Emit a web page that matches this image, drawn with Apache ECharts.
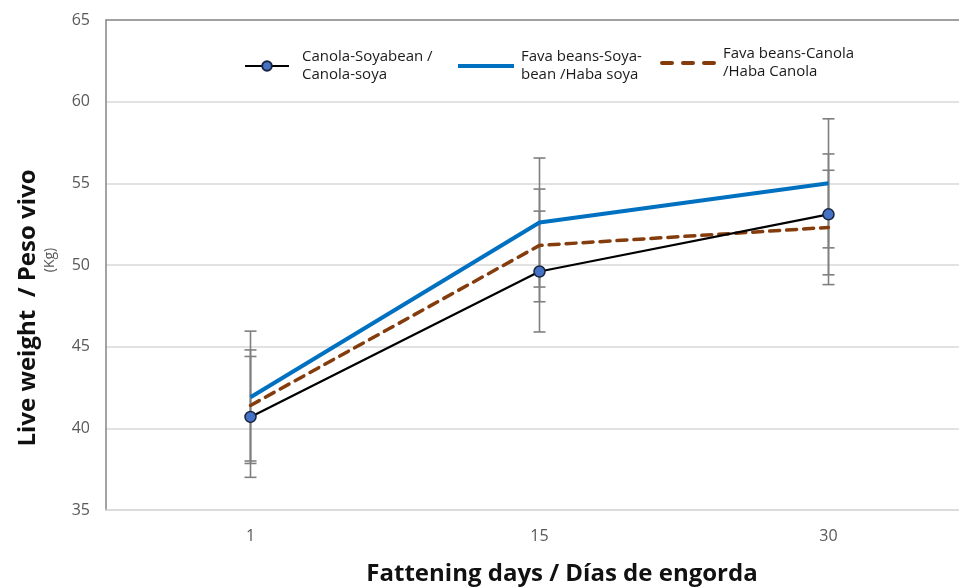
<!DOCTYPE html>
<html>
<head>
<meta charset="utf-8">
<script src="https://cdn.jsdelivr.net/npm/echarts@6/dist/echarts.min.js"></script>
<style>
  html, body { margin: 0; padding: 0; background: #fff; }
  #chart { width: 959px; height: 588px; }
</style>
</head>
<body>
<div id="chart"></div>
<script>
// Live weight over fattening days, three diets, with error bars
const DAYS = ['1', '15', '30'];
const NAMES = ['Canola-Soyabean /\nCanola-soya', 'Fava beans-Soya-\nbean /Haba soya', 'Fava beans-Canola\n/Haba Canola'];
const CANOLA_SOYA = [40.7, 49.6, 53.1];
const FAVA_SOYA = [41.9, 52.6, 55.0];
const FAVA_CANOLA = [41.4, 51.2, 52.3];
const CANOLA_SOYA_SD = [3.7, 3.7, 3.7];
const FAVA_SOYA_SD = [4.05, 3.95, 3.95];
const FAVA_CANOLA_SD = [3.4, 3.45, 3.5];

const FONT = '"Open Sans", "Noto Sans", sans-serif';

function errorData(means, sds) {
  return means.map((m, i) => [i, m - sds[i], m + sds[i]]);
}

function renderError(params, api) {
  const x = api.value(0);
  const lo = api.coord([x, api.value(1)]);
  const hi = api.coord([x, api.value(2)]);
  const half = 6;
  const style = { stroke: '#7f7f7f', lineWidth: 1.6 };
  return {
    type: 'group',
    children: [
      { type: 'line', shape: { x1: lo[0], y1: lo[1], x2: hi[0], y2: hi[1] }, style },
      { type: 'line', shape: { x1: lo[0] - half, y1: lo[1], x2: lo[0] + half, y2: lo[1] }, style },
      { type: 'line', shape: { x1: hi[0] - half, y1: hi[1], x2: hi[0] + half, y2: hi[1] }, style }
    ]
  };
}

function errorSeries(means, sds) {
  return {
    type: 'custom',
    renderItem: renderError,
    data: errorData(means, sds),
    z: 1,
    silent: true
  };
}

const legendText = { fontFamily: FONT, fontSize: 15, color: '#1a1a1a', lineHeight: 18 };

function legendAt(name, left, top, iconWidth, iconHeight, gap, icon) {
  const l = {
    data: [name],
    left: left,
    top: top,
    padding: 0,
    itemWidth: iconWidth,
    itemHeight: iconHeight,
    textStyle: Object.assign({ padding: [0, 0, 0, gap] }, legendText)
  };
  if (icon) l.icon = icon;
  return l;
}

const chart = echarts.init(document.getElementById('chart'));
chart.setOption({
  animation: false,
  backgroundColor: '#fff',
  grid: { left: 106, width: 867, top: 20, bottom: 78, containLabel: false, outerBoundsMode: 'none' },
  legend: [
    legendAt(NAMES[0], 244, 48, 44, 12, 8),
    legendAt(NAMES[1], 458, 48, 56, 5, 2, 'path://M0,0h56v4h-56z'),
    legendAt(NAMES[2], 660, 45, 56, 5, 2, 'path://M2,0h10a2,2 0 0 1 0,4h-10a2,2 0 0 1 0,-4z M23,0h10a2,2 0 0 1 0,4h-10a2,2 0 0 1 0,-4z M44,0h10a2,2 0 0 1 0,4h-10a2,2 0 0 1 0,-4z')
  ],
  xAxis: [{
    type: 'category',
    data: DAYS,
    boundaryGap: true,
    axisLine: { show: true, lineStyle: { color: '#d9d9d9', width: 1.5 } },
    axisTick: { show: false },
    axisLabel: { fontFamily: FONT, fontSize: 16, color: '#595959', margin: 18 }
  }, {
    type: 'category',
    data: DAYS,
    position: 'top',
    axisLine: { show: true, lineStyle: { color: '#8c8c8c', width: 1.5 } },
    axisTick: { show: false },
    axisLabel: { show: false }
  }],
  yAxis: {
    type: 'value',
    min: 35,
    max: 65,
    interval: 5,
    axisLine: { show: true, lineStyle: { color: '#858585', width: 1.5 } },
    axisTick: { show: false },
    splitLine: { lineStyle: { color: '#d9d9d9', width: 1.5 } },
    axisLabel: { fontFamily: FONT, fontSize: 16, color: '#595959', margin: 16 }
  },
  graphic: [
    {
      type: 'text', x: 28, y: 308, rotation: Math.PI / 2,
      style: { text: 'Live weight  / Peso vivo', fontSize: 24, fontWeight: 'bold', fontFamily: FONT, fill: '#111', align: 'center', verticalAlign: 'middle' }
    },
    {
      type: 'text', x: 50, y: 260, rotation: Math.PI / 2,
      style: { text: '(Kg)', fontSize: 14, fontFamily: FONT, fill: '#595959', align: 'center', verticalAlign: 'middle' }
    },
    {
      type: 'text', x: 562, y: 574,
      style: { text: 'Fattening days / Días de engorda', fontSize: 24, fontWeight: 'bold', fontFamily: FONT, fill: '#111', align: 'center', verticalAlign: 'middle' }
    }
  ],
  series: [
    errorSeries(CANOLA_SOYA, CANOLA_SOYA_SD),
    errorSeries(FAVA_SOYA, FAVA_SOYA_SD),
    errorSeries(FAVA_CANOLA, FAVA_CANOLA_SD),
    {
      name: NAMES[2],
      type: 'line',
      data: FAVA_CANOLA,
      symbol: 'none',
      z: 3,
      lineStyle: { color: '#843c0c', width: 3.5, type: [10, 7], cap: 'round' },
      itemStyle: { color: '#843c0c' }
    },
    {
      name: NAMES[1],
      type: 'line',
      data: FAVA_SOYA,
      symbol: 'none',
      z: 4,
      lineStyle: { color: '#0070c0', width: 4 },
      itemStyle: { color: '#0070c0' }
    },
    {
      name: NAMES[0],
      type: 'line',
      data: CANOLA_SOYA,
      symbol: 'circle',
      symbolSize: 11,
      z: 5,
      lineStyle: { color: '#000', width: 2.2 },
      itemStyle: { color: '#4472c4', borderColor: '#1a2440', borderWidth: 1.5 }
    }
  ]
});
window.addEventListener('resize', () => chart.resize());
</script>
</body>
</html>
